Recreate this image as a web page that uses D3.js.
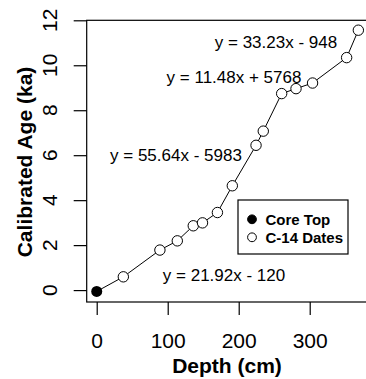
<!DOCTYPE html>
<html>
<head>
    <meta charset="utf-8">
    <script src="https://d3js.org/d3.v7.min.js"></script>
    <style>
      body { margin:0; background:#fff; }
      text { font-family: "Liberation Sans", Arial, Helvetica, sans-serif; fill:#000; }
    </style>
</head>
<body>
<script>
    // core top + radiocarbon dates, depth in cm, age in ka
    var coreTop = [{depth: 0, age: -0.06}];
    var depths = [37.5, 89, 113.5, 136, 149, 170, 191, 224.4, 234.6, 260.5, 280.7, 304, 352, 368.5];
    var ages   = [0.59, 1.78, 2.19, 2.86, 2.99, 3.45, 4.64, 6.44, 7.07, 8.74, 8.96, 9.21, 10.34, 11.56];

    var xTicks = [0, 100, 200, 300];
    var yTicks = [0, 2, 4, 6, 8, 10, 12];

    var eqLabels = ["y = 21.92x - 120", "y = 55.64x - 5983", "y = 11.48x + 5768", "y = 33.23x - 948"];
    var eqX = [179.3, 111.6, 193.4, 252.5];
    var eqY = [0.67, 6.0, 9.47, 11.04];

    var legendLabels = ["Core Top", "C-14 Dates"];

    var width = 366, height = 379;
    var svg = d3.select("body").append("svg").attr("width", width).attr("height", height);

    var x = d3.scaleLinear().domain([-14.1, 400]).range([86.7, 86.7 + 414.1 * 0.71]);
    var y = d3.scaleLinear().domain([-0.53, 12]).range([302, 20.3]);

    var dates = depths.map(function (d, i) { return {depth: d, age: ages[i]}; });
    var all = coreTop.concat(dates);

    // line through all the points
    var line = d3.line().x(d => x(d.depth)).y(d => y(d.age));
    svg.append("path")
        .datum(all)
        .attr("d", line)
        .attr("fill", "none")
        .attr("stroke", "#000")
        .attr("stroke-width", 1);

    svg.selectAll("circle.date")
        .data(dates).enter()
        .append("circle")
        .attr("class", "date")
        .attr("cx", d => x(d.depth))
        .attr("cy", d => y(d.age))
        .attr("r", 5.2)
        .attr("fill", "#fff")
        .attr("stroke", "#000")
        .attr("stroke-width", 1);

    svg.selectAll("circle.top")
        .data(coreTop).enter()
        .append("circle")
        .attr("class", "top")
        .attr("cx", d => x(d.depth))
        .attr("cy", d => y(d.age))
        .attr("r", 5.5)
        .attr("fill", "#000");

    // box (right side falls outside the picture)
    svg.append("rect")
        .attr("x", x(-14.1)).attr("y", y(12))
        .attr("width", x(400) - x(-14.1))
        .attr("height", y(-0.53) - y(12))
        .attr("fill", "none").attr("stroke", "#000").attr("stroke-width", 1.2);

    // x axis
    var xAxis = d3.axisBottom(x).tickValues(xTicks).tickSize(13).tickPadding(18).tickSizeOuter(0);
    var gx = svg.append("g").attr("transform", "translate(0," + y(-0.53) + ")").call(xAxis);
    gx.select(".domain").remove();
    gx.selectAll("text").attr("font-size", 21).attr("font-family", "Liberation Sans, Arial, sans-serif");
    gx.selectAll("line").attr("stroke-width", 1.2);

    // y axis, rotated labels like base R
    var yAxis = d3.axisLeft(y).tickValues(yTicks).tickSize(13).tickFormat("");
    var gy = svg.append("g").attr("transform", "translate(" + x(-14.1) + ",0)").call(yAxis);
    gy.select(".domain").remove();
    gy.selectAll("line").attr("stroke-width", 1.2);

    svg.selectAll("text.ytick")
        .data(yTicks).enter()
        .append("text")
        .attr("class", "ytick")
        .attr("transform", d => "translate(56.7," + y(d) + ") rotate(-90)")
        .attr("text-anchor", "middle")
        .attr("font-size", 21)
        .text(d => d);

    svg.append("text")
        .attr("x", 227).attr("y", 373)
        .attr("text-anchor", "middle")
        .attr("font-size", 21).attr("font-weight", "bold")
        .text("Depth (cm)");

    svg.append("text")
        .attr("transform", "translate(31.5,162) rotate(-90)")
        .attr("text-anchor", "middle")
        .attr("font-size", 21).attr("font-weight", "bold")
        .text("Calibrated Age (ka)");

    // regression equations
    svg.selectAll("text.eq")
        .data(eqLabels).enter()
        .append("text")
        .attr("class", "eq")
        .attr("x", (d, i) => x(eqX[i]))
        .attr("y", (d, i) => y(eqY[i]))
        .attr("dy", "0.36em")
        .attr("text-anchor", "middle")
        .attr("font-size", 17)
        .text(d => d);

    // legend
    var lg = svg.append("g");
    lg.append("rect")
        .attr("x", 238).attr("y", 200).attr("width", 110).attr("height", 54)
        .attr("fill", "#fff").attr("stroke", "#000").attr("stroke-width", 1.2);
    lg.selectAll("circle")
        .data(legendLabels).enter()
        .append("circle")
        .attr("cx", 252)
        .attr("cy", (d, i) => 219.3 + i * 18)
        .attr("r", 4.4)
        .attr("fill", (d, i) => i === 0 ? "#000" : "#fff")
        .attr("stroke", "#000").attr("stroke-width", 1);
    lg.selectAll("text")
        .data(legendLabels).enter()
        .append("text")
        .attr("x", 265.5)
        .attr("y", (d, i) => 219.3 + i * 18)
        .attr("dy", "0.36em")
        .attr("font-size", 15).attr("font-weight", "bold")
        .text(d => d);
</script>
</body>
</html>
